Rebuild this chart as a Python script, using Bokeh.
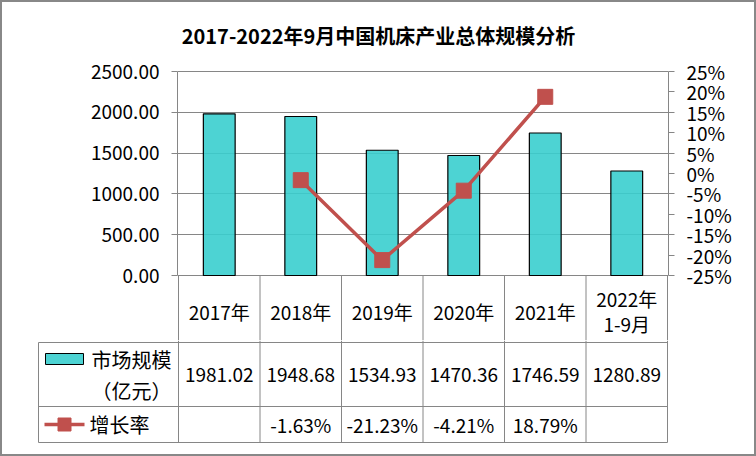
from bokeh.plotting import figure
from bokeh.models import Range1d, LinearAxis, FixedTicker, PrintfTickFormatter
from bokeh.layouts import column
from bokeh.embed import file_html
from bokeh.resources import INLINE
from bokeh.core.properties import value

# ---- data ----
years = ["2017年", "2018年", "2019年", "2020年", "2021年", "2022年\n1-9月"]
market = [1981.02, 1948.68, 1534.93, 1470.36, 1746.59, 1280.89]
growth = [None, -1.63, -21.23, -4.21, 18.79, None]
left_ticks = [0, 500, 1000, 1500, 2000, 2500]
right_ticks = [-25, -20, -15, -10, -5, 0, 5, 10, 15, 20, 25]
series_market = "市场规模\n（亿元）"
series_growth = "增长率"
title_text = "2017-2022年9月中国机床产业总体规模分析"

FONT = "Noto Sans CJK SC"
GRAY = "#868686"
TEAL = "#3ACECE"
RED = "#C0504D"

n = len(years)
xs = [i + 0.5 for i in range(n)]
growth_nan = [float("nan") if g is None else g for g in growth]

# ---- geometry (page pixels) ----
PLOT_L, PLOT_R = 178, 667          # plot-area left/right
PLOT_T, PLOT_B = 71, 275           # plot-area top/bottom
UNIT = (PLOT_R - PLOT_L) / n       # px per category
F1_T, F1_B = 2, 340                # top figure frame (includes title + header row)
F1_L, F1_R = 177, 668

lpx = (left_ticks[-1] - left_ticks[0]) / (PLOT_B - PLOT_T)     # value per px
rpx = (right_ticks[-1] - right_ticks[0]) / (PLOT_B - PLOT_T)


def lv(py):   # page y -> left-axis value
    return left_ticks[0] + (PLOT_B - py) * lpx


def dx(px):   # page x -> category x
    return (px - PLOT_L) / UNIT


# ---- top figure: chart + header row ----
p1 = figure(frame_width=F1_R - F1_L, frame_height=F1_B - F1_T,
            min_border_left=F1_L - 2, min_border_right=752 - (F1_L - 2) - (F1_R - F1_L),
            min_border_top=0, min_border_bottom=0,
            x_range=Range1d(dx(F1_L), dx(F1_R)), y_range=Range1d(lv(F1_B), lv(F1_T)),
            x_axis_location=None, y_axis_location="left",
            output_backend="svg", toolbar_location=None)
p1.frame_align = False
p1.extra_y_ranges = {"pct": Range1d(right_ticks[0] - (F1_B - PLOT_B) * rpx,
                                    right_ticks[-1] + (PLOT_T - F1_T) * rpx)}
p1.outline_line_color = None
p1.xgrid.visible = False
p1.ygrid.ticker = FixedTicker(ticks=left_ticks)
p1.ygrid.grid_line_color = GRAY
p1.ygrid.grid_line_alpha = 1

ax = p1.yaxis[0]
ax.ticker = FixedTicker(ticks=left_ticks)
ax.formatter = PrintfTickFormatter(format="%.2f")
ax.bounds = (left_ticks[0], left_ticks[-1])
ax2 = LinearAxis(y_range_name="pct", ticker=FixedTicker(ticks=right_ticks),
                 formatter=PrintfTickFormatter(format="%d%%"),
                 bounds=(right_ticks[0], right_ticks[-1]))
p1.add_layout(ax2, "right")
for a in (ax, ax2):
    a.axis_line_color = GRAY
    a.major_tick_line_color = GRAY
    a.minor_tick_line_color = None
    a.major_tick_in = 0
    a.major_tick_out = 6
    a.major_label_standoff = 12
    a.major_label_text_font = FONT
    a.major_label_text_font_size = "19px"
    a.major_label_text_color = "#000000"

p1.vbar(x=xs, top=market, width=0.39, fill_color=TEAL, fill_alpha=0.9,
        line_color="black", line_width=1.2)
p1.line(xs, growth_nan, y_range_name="pct", line_color=RED, line_width=3.5)
p1.scatter(xs, growth_nan, y_range_name="pct", marker="square", size=15,
           fill_color=RED, line_color=RED)

# title
p1.text(x=[dx(378)], y=[lv(35)], text=[title_text], text_font=value(FONT),
        text_font_size="20px", text_font_style="bold", text_align="center",
        text_baseline="middle", text_color="#000000")

# header row of the data table (multi-line labels laid out line by line)
cols = list(range(n + 1))
p1.segment(x0=cols, y0=[left_ticks[0]] * len(cols), x1=cols, y1=[lv(F1_B + 5)] * len(cols),
           line_color=GRAY, line_width=1)
txt = dict(text_font=value(FONT), text_font_size="19px", text_align="center",
           text_baseline="middle", text_color="#000000")
hx, hy, ht = [], [], []
for x, lab in zip(xs, years):
    parts = lab.split("\n")
    k = len(parts)
    for i, s in enumerate(parts):
        hx.append(x)
        hy.append(lv(310.5 + (i - (k - 1) / 2) * 25))
        ht.append(s)
p1.text(x=hx, y=hy, text=ht, **txt)

# ---- bottom figure: table body ----
F2_T, F2_B = F1_B, 454
F2_L, F2_R = 30, 700


def ty(py):
    return py - F2_T


p2 = figure(frame_width=F2_R - F2_L, frame_height=F2_B - F2_T,
            min_border_left=F2_L - 2, min_border_right=752 - (F2_L - 2) - (F2_R - F2_L),
            min_border_top=0, min_border_bottom=0,
            x_range=Range1d(dx(F2_L), dx(F2_R)), y_range=Range1d(F2_B - F2_T, 0),
            x_axis_location=None, y_axis_location=None,
            output_backend="svg", toolbar_location=None)
p2.frame_align = False
p2.outline_line_color = None
p2.xgrid.visible = False
p2.ygrid.visible = False

p2.segment(x0=cols, y0=[0] * len(cols), x1=cols, y1=[ty(442)] * len(cols), line_color=GRAY, line_width=1)
p2.segment(x0=[dx(38)], y0=[ty(342)], x1=[dx(38)], y1=[ty(442)], line_color=GRAY, line_width=1)
rows = [ty(342), ty(406), ty(442)]
p2.segment(x0=[dx(38)] * 3, y0=rows, x1=[n] * 3, y1=rows, line_color=GRAY, line_width=1)

p2.text(x=xs, y=[ty(374)] * n, text=["%.2f" % v for v in market], **txt)
gx = [x for x, g in zip(xs, growth) if g is not None]
p2.text(x=gx, y=[ty(424)] * len(gx), text=["%.2f%%" % g for g in growth if g is not None], **txt)

# legend keys
p2.quad(left=[dx(45)], right=[dx(83)], top=[ty(353)], bottom=[ty(364)], fill_color=TEAL,
        fill_alpha=0.9, line_color="black", line_width=1)
mparts = series_market.split("\n")
p2.text(x=[dx(131)] * len(mparts), y=[ty(359 + 31 * i) for i in range(len(mparts))], text=mparts,
        text_font=value(FONT), text_font_size="20px", text_align="center",
        text_baseline="middle", text_color="#000000")
p2.segment(x0=[dx(44)], y0=[ty(424)], x1=[dx(84)], y1=[ty(424)], line_color=RED, line_width=3.5)
p2.scatter(x=[dx(64)], y=[ty(424)], marker="square", size=13, fill_color=RED, line_color=RED)
p2.text(x=[dx(89)], y=[ty(424)], text=[series_growth], text_font=value(FONT), text_font_size="20px",
        text_align="left", text_baseline="middle", text_color="#000000")

layout = column(p1, p2, spacing=0, styles={"border": "2px solid #888888"})

open("out.html", "w").write(file_html(layout, INLINE))
